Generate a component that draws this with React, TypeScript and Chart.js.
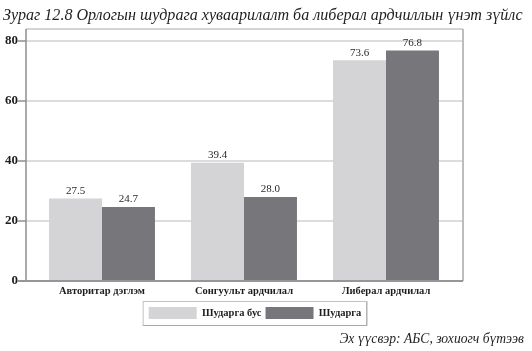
import React, { useEffect, useRef } from 'react';
import { Chart, registerables } from 'chart.js';

Chart.register(...registerables);

const categories = ['Авторитар дэглэм', 'Сонгуульт ардчилал', 'Либерал ардчилал'];
const seriesLabels = ['Шударга бус', 'Шударга'];
const unfairValues = [27.5, 39.4, 73.6];
const fairValues = [24.7, 28.0, 76.8];
const yTicks = [0, 20, 40, 60, 80];
const titleText = 'Зураг 12.8 Орлогын шудрага хуваарилалт ба либерал ардчиллын үнэт зүйлс';
const sourceText = 'Эх үүсвэр: АБС, зохиогч бүтээв';

const SERIF = '"Liberation Serif", "DejaVu Serif", serif';

function line(ctx: CanvasRenderingContext2D, x1: number, y1: number, x2: number, y2: number) {
  ctx.beginPath();
  ctx.moveTo(x1, y1);
  ctx.lineTo(x2, y2);
  ctx.stroke();
}

const framePlugin = {
  id: 'frameDecor',
  beforeDatasetsDraw(chart: any) {
    const { ctx, chartArea: ca, scales } = chart;
    const y = scales.y;
    const L = ca.left - 5;
    const R = ca.right + 6;
    const T = ca.top;
    const B = y.getPixelForValue(0);
    ctx.save();
    yTicks.forEach((v) => {
      const py = y.getPixelForValue(v);
      if (v !== 0) {
        ctx.strokeStyle = '#d0d0d0';
        ctx.lineWidth = 1.5;
        line(ctx, L, py, R, py);
      }
      ctx.strokeStyle = '#8e8e8e';
      ctx.lineWidth = 1.5;
      line(ctx, L - 9, py, L, py);
    });
    ctx.strokeStyle = '#c6c6c6';
    ctx.lineWidth = 1.5;
    line(ctx, L, T, R, T);
    ctx.strokeStyle = '#bdbdbd';
    ctx.lineWidth = 2;
    line(ctx, R, T, R, B);
    ctx.strokeStyle = '#8e8e8e';
    ctx.lineWidth = 1.5;
    line(ctx, L, T, L, B);
    ctx.restore();
  },
  afterDatasetsDraw(chart: any) {
    const { ctx, chartArea: ca, scales } = chart;
    const y = scales.y;
    const L = ca.left - 5;
    const R = ca.right + 6;
    const B = y.getPixelForValue(0);
    ctx.save();
    ctx.strokeStyle = '#969696';
    ctx.lineWidth = 2;
    line(ctx, L - 9, B, R, B);
    ctx.fillStyle = '#2a2a2a';
    ctx.font = `11px ${SERIF}`;
    ctx.textAlign = 'center';
    ctx.textBaseline = 'bottom';
    chart.data.datasets.forEach((ds: any, di: number) => {
      const meta = chart.getDatasetMeta(di);
      meta.data.forEach((bar: any, i: number) => {
        ctx.fillText(Number(ds.data[i]).toFixed(1), bar.x, bar.y - 2);
      });
    });
    ctx.restore();
  },
  afterDraw(chart: any) {
    const { ctx } = chart;
    ctx.save();
    ctx.fillStyle = '#1e1e1e';
    ctx.font = `italic 16.1px ${SERIF}`;
    ctx.textAlign = 'left';
    ctx.textBaseline = 'alphabetic';
    ctx.fillText(titleText, 3, 20);
    ctx.font = `italic 13.6px ${SERIF}`;
    ctx.textAlign = 'right';
    ctx.fillText(sourceText, 524, 343);
    const hb = chart.legend?.legendHitBoxes;
    if (hb && hb.length) {
      const left = hb[0].left - 5.5;
      const last = hb[hb.length - 1];
      const right = last.left + last.width + 5.5;
      const top = hb[0].top - 5.5;
      const bottom = hb[0].top + 12 + 6.5;
      ctx.strokeStyle = '#c2c2c2';
      ctx.lineWidth = 1;
      ctx.strokeRect(left, top, right - left, bottom - top);
      ctx.strokeStyle = '#a8a8a8';
      line(ctx, left, bottom, right, bottom);
      line(ctx, right, top, right, bottom);
    }
    ctx.restore();
  },
};

export default function App() {
  const ref = useRef<HTMLCanvasElement | null>(null);
  useEffect(() => {
    document.body.style.margin = '0';
    if (!ref.current) return;
    const chart = new Chart(ref.current, {
      type: 'bar',
      data: {
        labels: categories,
        datasets: [
          {
            label: seriesLabels[0],
            data: unfairValues,
            backgroundColor: '#d4d4d6',
            borderWidth: 0,
          },
          {
            label: seriesLabels[1],
            data: fairValues,
            backgroundColor: '#77777b',
            borderWidth: 0,
          },
        ],
      },
      options: {
        animation: false,
        responsive: false,
        layout: { padding: { left: 0, right: 22, top: 29, bottom: 22 } },
        datasets: { bar: { categoryPercentage: 0.746, barPercentage: 1 } },
        scales: {
          x: {
            grid: { display: false, drawTicks: false },
            border: { display: false },
            ticks: {
              padding: 4,
              color: '#1e1e1e',
              font: { family: SERIF, size: 10.5, weight: 'bold' },
            },
            afterFit: (s: any) => {
              s.height = 22;
            },
          },
          y: {
            min: 0,
            max: 84,
            grid: { display: false, drawTicks: false },
            border: { display: false },
            ticks: {
              padding: 13,
              color: '#1e1e1e',
              font: { family: SERIF, size: 13, weight: 'bold' },
            },
            afterBuildTicks: (s: any) => {
              s.ticks = yTicks.map((v) => ({ value: v }));
            },
            afterFit: (s: any) => {
              s.width = 31;
            },
          },
          y2: {
            position: 'right',
            display: true,
            grid: { display: false, drawTicks: false },
            border: { display: false },
            ticks: { display: false },
            afterFit: (s: any) => {
              s.width = 53;
            },
          },
        },
        plugins: {
          legend: {
            position: 'bottom',
            labels: {
              boxWidth: 48,
              boxHeight: 12,
              padding: 4,
              color: '#1e1e1e',
              font: { family: SERIF, size: 10.5, weight: 'bold' },
            },
          },
          tooltip: { enabled: false },
          title: { display: false },
        },
      },
      plugins: [framePlugin],
    });
    return () => chart.destroy();
  }, []);
  return (
    <div style={{ width: 532, height: 351 }}>
      <canvas ref={ref} width={532} height={351} style={{ display: 'block' }} />
    </div>
  );
}
